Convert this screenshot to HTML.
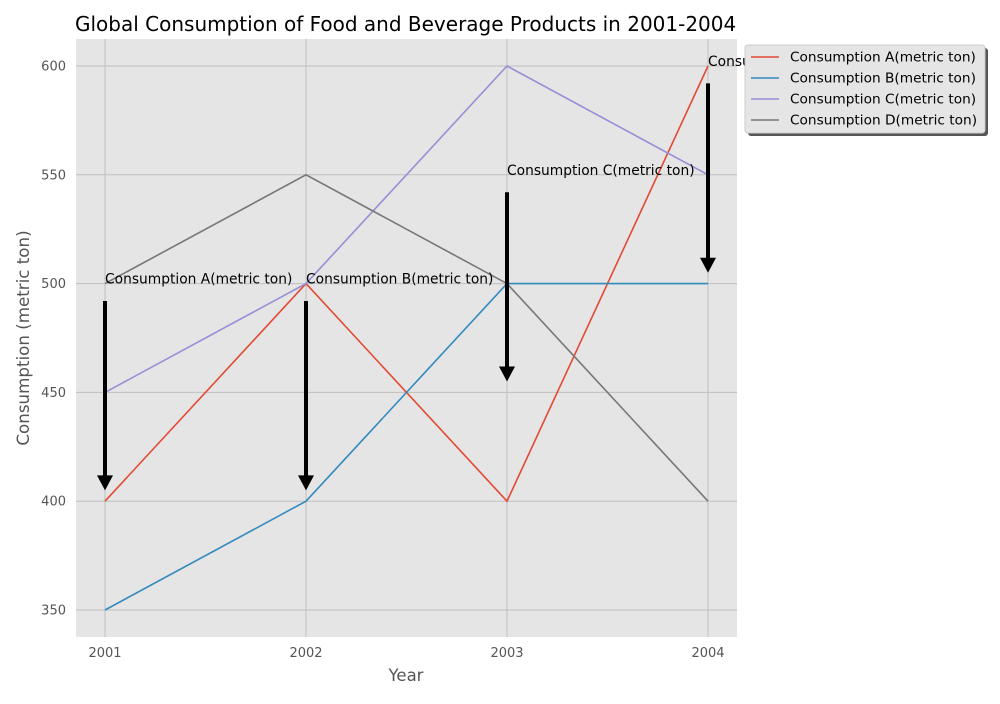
<!DOCTYPE html>
<html><head><meta charset="utf-8"><style>
body{margin:0;background:#fff;font-family:"DejaVu Sans",sans-serif}
svg text{font-family:"DejaVu Sans",sans-serif}
</style></head><body>
<svg id="chart" width="1000" height="700" xmlns="http://www.w3.org/2000/svg">
<defs><filter id="sh" x="-10%" y="-10%" width="130%" height="130%"><feOffset dx="3" dy="3"/></filter></defs>
<rect width="1000" height="700" fill="#fff"/>
<rect x="76" y="39" width="661" height="598" fill="#e5e5e5"/>
<g id="grid"></g><g id="lines"></g><g id="ann"></g><g id="axes"></g>
<text x="75" y="31" font-size="20" fill="#000">Global Consumption of Food and Beverage Products in 2001-2004</text>
<text x="406" y="681" font-size="16.5" fill="#555" text-anchor="middle">Year</text>
<text transform="translate(29,338) rotate(-90)" font-size="16.7" fill="#555" text-anchor="middle">Consumption (metric ton)</text>
<g id="legend"></g>
</svg>
<script>
const years=[2001,2002,2003,2004];
const seriesNames=["Consumption A(metric ton)","Consumption B(metric ton)","Consumption C(metric ton)","Consumption D(metric ton)"];
const seriesA=[400,500,400,600];
const seriesB=[350,400,500,500];
const seriesC=[450,500,600,550];
const seriesD=[500,550,500,400];
const annotationValues=[500,500,550,600];
const yTicks=[350,400,450,500,550,600];
const colors=["#E24A33","#348ABD","#988ED5","#777777"];
const series=[seriesA,seriesB,seriesC,seriesD];
const NS="http://www.w3.org/2000/svg";
const xS=v=>105+(v-2001)*201;
const yS=v=>610-(v-350)*2.176;
function mk(t,a,p){const e=document.createElementNS(NS,t);for(const k in a)e.setAttribute(k,a[k]);p.appendChild(e);return e;}
const grid=document.getElementById('grid'),axes=document.getElementById('axes');
years.forEach(y=>{
 const l=mk('line',{x1:xS(y),x2:xS(y),y1:39,y2:637,stroke:'#bfbfbf','stroke-width':1},grid);
 
 
 const t=mk('text',{x:xS(y),y:657,'font-size':13,fill:'#555','text-anchor':'middle'},axes);
 t.textContent=y;
 
 
});
yTicks.forEach(v=>{
 const l=mk('line',{x1:76,x2:737,y1:yS(v),y2:yS(v),stroke:'#bfbfbf','stroke-width':1},grid);
 
 
 const t=mk('text',{x:66,y:yS(v)+4.5,'font-size':13,fill:'#555','text-anchor':'end'},axes);
 t.textContent=v;
 
 
});
const lines=document.getElementById('lines');
series.forEach((s,i)=>{
 const p=mk('polyline',{points:s.map((v,j)=>xS(years[j])+','+yS(v)).join(' '),fill:'none',stroke:colors[i],'stroke-width':1.6},lines);
 
 
});
const ann=document.getElementById('ann');
annotationValues.forEach((v,i)=>{
 const x=xS(years[i]),y=yS(v);
 const t=mk('text',{x:x,y:y,'font-size':13.8,fill:'#000'},ann);
 t.textContent=seriesNames[i];
 
 
 const y0=yS(v-8),y1=yS(v-95);
 const a=mk('path',{d:`M${x-2},${y0} L${x+2},${y0} L${x+2},${y1-15} L${x+8},${y1-15} L${x},${y1} L${x-8},${y1-15} L${x-2},${y1-15} Z`,fill:'#000'},ann);
 
 
});
const lg=document.getElementById('legend');
mk('rect',{x:745,y:45,width:240,height:88,rx:3,fill:'#555',filter:'url(#sh)'},lg);
mk('rect',{x:745,y:45,width:240,height:88,rx:3,fill:'#e5e5e5',stroke:'#ccc'},lg);
seriesNames.forEach((n,i)=>{
 const y=57+i*21;
 const l=mk('line',{x1:751,x2:779,y1:y,y2:y,stroke:colors[i],'stroke-width':1.6},lg);
 
 
 const t=mk('text',{x:790,y:y+4.5,'font-size':13.7,fill:'#000'},lg);
 t.textContent=n;
 
 
});
</script>
</body></html>
